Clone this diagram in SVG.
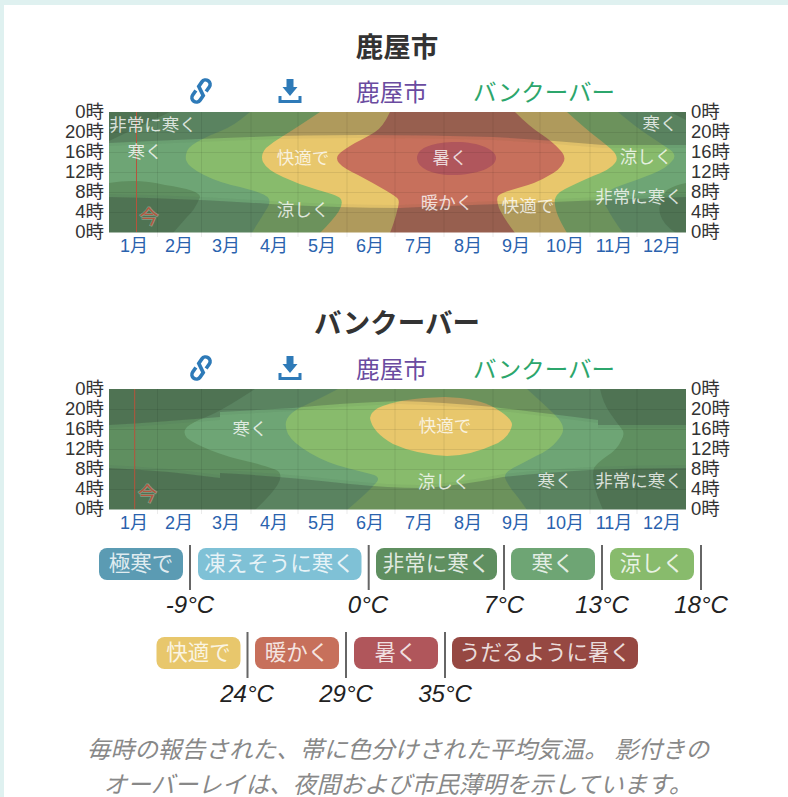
<svg xmlns="http://www.w3.org/2000/svg" xmlns:xlink="http://www.w3.org/1999/xlink" width="788" height="797" viewBox="0 0 788 797">
<style>
text{font-family:"Liberation Sans","Noto Sans CJK JP",sans-serif}
.title{font-size:27.500px;font-weight:700;fill:#333;text-anchor:middle}
.vc{fill:#5f8f60}.cold{fill:#6ea574}.cool{fill:#88bb6c}.comf{fill:#e8c76c}.warm{fill:#c7705b}.hot{fill:#b0565b}
.night{fill:#2f3838;opacity:.27}.twi{fill:#2f3838;opacity:.05}
.grid{stroke:#000;stroke-opacity:.08;stroke-width:1;fill:none}
.today{stroke:#b5533c;stroke-width:1;fill:none}
.now{font-size:19px;fill:#b5573f;text-anchor:middle;stroke:#fff;stroke-opacity:.3;stroke-width:1.5px;paint-order:stroke}
.hl{font-size:18.500px;fill:#333;text-anchor:end}
.hr{font-size:18.500px;fill:#333;text-anchor:start}
.ml{font-size:18px;fill:#2a62ae;text-anchor:middle}
.band{font-size:17.500px;fill:#fff;fill-opacity:.78;text-anchor:middle}
.p{font-size:23.700px;fill:#6a4ba0}.g{font-size:23.500px;fill:#2ca66c}
.lg{font-size:21.500px;fill:#fff;fill-opacity:.82;text-anchor:middle}
.tick{stroke:#666;stroke-width:2;fill:none}
.deg{font-size:24px;font-style:italic;fill:#222;text-anchor:middle}
.cap{font-size:23.700px;font-style:italic;fill:#888;text-anchor:middle}
</style>
<defs>
<clipPath id="c1"><rect x="109" y="112" width="577" height="120.500"/></clipPath>
<clipPath id="c2"><rect x="109" y="389" width="577" height="120.500"/></clipPath>
<filter id="soft" x="-2%" y="-5%" width="104%" height="110%"><feGaussianBlur stdDeviation="0.6"/></filter>
<g id="icons">
<path transform="translate(201 91) rotate(35)" d="M4.500 -2.500V-8a4.500 4.500 0 0 0 -9 0V-2.500L4.500 2.500V8a4.500 4.500 0 0 1 -9 0V2.500" fill="none" stroke="#2e7ab8" stroke-width="3.600" stroke-linecap="butt"/>
<path d="M286.500 79H293.500V87H297.500L290 96L282.500 87H286.500Z" fill="#2e7ab8"/>
<path d="M280 96V101.500H300V96" fill="none" stroke="#2e7ab8" stroke-width="3"/>
</g>
</defs>
<rect width="788" height="797" fill="#fff"/>
<rect width="788" height="5" fill="#dff1f0"/>
<rect width="4" height="797" fill="#dff1f0"/>

<g id="chart-kanoya">
<text class="title" x="397" y="57">鹿屋市</text>
<use xlink:href="#icons" href="#icons"/>
<text class="p" x="356" y="101">鹿屋市</text>
<text class="g" x="473" y="101">バンクーバー</text>
<g clip-path="url(#c1)" filter="url(#soft)">
<rect class="vc" x="109" y="112" width="577" height="121"/>
<path class="cold" d="M170 112 L109 141 L109 183 Q137 178 165 185 Q200 190 200 197 Q195 210 187 217 Q180 225 173 233 L676 233 Q663 225 660 214 Q657 203 667 190 Q675 185 686 183 L686 120 L670 112 Z"/>
<path class="cool" d="M250 112 L240 120 Q230 128 211 135 Q193 143 189 148 Q185 153 186 160 Q188 167 204 175 Q220 183 240 187 Q260 192 266 196 Q273 200 266 210 Q260 220 256 226 L252 233 L623 233 Q612 218 607 208 Q603 203 605 196 Q607 190 622 185 Q637 180 652 174 Q667 168 672 161 Q678 155 669 149 Q660 143 648 135 Q637 128 618 112 Z"/>
<path class="comf" d="M320 112 Q293 130 283 136 Q273 142 266 148 Q260 155 263 162 Q267 170 283 177 Q300 185 318 190 Q337 195 340 198 Q344 202 339 211 Q333 220 320 233 L567 233 Q555 213 555 204 Q553 195 565 189 Q577 183 593 176 Q610 170 615 163 Q620 157 611 149 Q603 142 595 136 Q587 130 567 112 Z"/>
<path class="warm" d="M390 112 Q383 127 375 132 Q367 137 355 143 Q343 150 339 154 Q335 158 339 163 Q343 168 358 175 Q373 183 385 190 Q397 197 398 199 Q400 202 397 211 Q395 220 390 233 L515 233 Q503 217 499 208 Q496 200 498 196 Q500 193 518 188 Q537 183 548 176 Q560 170 563 163 Q567 157 560 150 Q553 142 541 134 Q530 127 515 112 Z"/>
<path class="hot" d="M417 158 C417 147 435 142 456 142 C480 142 496 150 496 158 C496 167 478 175 452 175 C432 175 417 168 417 158 Z"/>
<path class="twi" d="M109 112H686V148 L603 148 Q547 143 493 140 Q430 138 360 138 Q300 138 250 140 Q170 143 109 146Z"/>
<path class="night" d="M109 112H686V145 L603 145 Q547 140 493 137 Q430 135 360 135 Q300 135 250 137 Q170 140 109 143Z"/>
<path class="twi" d="M109 194 Q200 196 270 201 Q340 205 400 205 Q450 203 553 199 Q630 196 686 194 V233 H109Z"/>
<path class="night" d="M109 197 Q200 199 270 204 Q340 208 400 208 Q450 206 553 202 Q630 199 686 197 V233 H109Z"/>
</g>
<path class="grid" d="M109 132.500H686M109 152.500H686M109 172.500H686M109 192.500H686M109 212.500H686M157.500 112V237M201.500 112V237M251 112V237M298 112V237M347 112V237M395 112V237M444 112V237M493 112V237M540 112V237M590 112V237M637 112V237"/>
<path class="today" d="M136.500 112V232"/>
<text class="now" x="149" y="224">今</text>
<g>
<text class="band" x="153" y="131">非常に寒く</text>
<text class="band" x="145" y="158">寒く</text>
<text class="band" x="303" y="164">快適で</text>
<text class="band" x="303" y="216">涼しく</text>
<text class="band" x="450" y="164">暑く</text>
<text class="band" x="447" y="209">暖かく</text>
<text class="band" x="528" y="212">快適で</text>
<text class="band" x="660" y="130">寒く</text>
<text class="band" x="646" y="163">涼しく</text>
<text class="band" x="639" y="203">非常に寒く</text>
</g>
<g>
<text class="hl" x="104" y="118">0時</text><text class="hl" x="104" y="138">20時</text><text class="hl" x="104" y="158">16時</text><text class="hl" x="104" y="178">12時</text><text class="hl" x="104" y="198">8時</text><text class="hl" x="104" y="218">4時</text><text class="hl" x="104" y="238">0時</text>
<text class="hr" x="691" y="118">0時</text><text class="hr" x="691" y="138">20時</text><text class="hr" x="691" y="158">16時</text><text class="hr" x="691" y="178">12時</text><text class="hr" x="691" y="198">8時</text><text class="hr" x="691" y="218">4時</text><text class="hr" x="691" y="238">0時</text>
</g>
<g>
<text class="ml" x="134" y="252">1月</text><text class="ml" x="179" y="252">2月</text><text class="ml" x="226" y="252">3月</text><text class="ml" x="274" y="252">4月</text><text class="ml" x="322" y="252">5月</text><text class="ml" x="370" y="252">6月</text><text class="ml" x="419" y="252">7月</text><text class="ml" x="468" y="252">8月</text><text class="ml" x="516" y="252">9月</text><text class="ml" x="565" y="252">10月</text><text class="ml" x="614" y="252">11月</text><text class="ml" x="662" y="252">12月</text>
</g>
</g>

<g id="chart-vancouver">
<text class="title" x="397" y="333">バンクーバー</text>
<use xlink:href="#icons" href="#icons" y="277"/>
<text class="p" x="356" y="378">鹿屋市</text>
<text class="g" x="473" y="378">バンクーバー</text>
<g clip-path="url(#c2)" filter="url(#soft)">
<rect class="vc" x="109" y="389" width="577" height="121"/>
<path class="cold" d="M255 389 Q220 412 206 417 Q193 422 187 427 Q182 432 187 438 Q193 443 210 450 Q227 457 250 462 Q273 468 278 471 Q283 475 278 484 Q273 493 255 510 L603 510 Q597 497 594 485 Q592 473 594 468 Q597 463 607 456 Q617 450 621 441 Q626 433 621 428 Q617 423 610 413 Q603 403 600 389 Z"/>
<path class="cool" d="M338 389 Q313 402 301 407 Q290 413 287 419 Q284 425 288 434 Q293 443 310 453 Q327 463 347 468 Q367 473 374 475 Q382 478 374 485 Q367 493 347 510 L527 510 Q518 497 512 490 Q507 483 505 478 Q504 473 513 468 Q523 463 536 456 Q550 450 557 441 Q564 433 563 428 Q563 423 555 415 Q547 407 527 389 Z"/>
<path class="comf" d="M370 418 Q371 412 378 408 Q400 398 445 397 Q478 398 495 408 Q512 418 512 425 Q510 436 498 443 Q470 456 447 456 Q415 454 393 444 Q372 432 370 418Z"/>
<path class="twi" d="M109 389H686V428 L598 428 V423 Q550 417 493 410 Q440 405 400 404 Q340 406 293 411 L220 415 V420 Q160 425 109 428Z"/>
<path class="night" d="M109 389H686V425 L598 425 V420 Q550 414 493 407 Q440 402 400 401 Q340 403 293 408 L220 412 V417 Q160 422 109 425Z"/>
<path class="twi" d="M109 465 Q160 467 220 475 V470 Q280 473 350 481 Q390 485 420 485 Q460 483 503 474 Q550 469 590 467 Q640 465 686 465 V510 H109Z"/>
<path class="night" d="M109 468 Q160 470 220 478 V473 Q280 476 350 484 Q390 488 420 488 Q460 486 503 477 Q550 472 590 470 Q640 468 686 468 V510 H109Z"/>
</g>
<path class="grid" d="M109 409.500H686M109 429.500H686M109 449.500H686M109 469.500H686M109 489.500H686M157.500 389V514M201.500 389V514M251 389V514M298 389V514M347 389V514M395 389V514M444 389V514M493 389V514M540 389V514M590 389V514M637 389V514"/>
<path class="today" d="M134.700 389V509"/>
<text class="now" x="147.500" y="501">今</text>
<g>
<text class="band" x="250" y="435">寒く</text>
<text class="band" x="445" y="432">快適で</text>
<text class="band" x="444" y="488">涼しく</text>
<text class="band" x="555" y="487">寒く</text>
<text class="band" x="639" y="487">非常に寒く</text>
</g>
<g>
<text class="hl" x="104" y="395">0時</text><text class="hl" x="104" y="415">20時</text><text class="hl" x="104" y="435">16時</text><text class="hl" x="104" y="455">12時</text><text class="hl" x="104" y="475">8時</text><text class="hl" x="104" y="495">4時</text><text class="hl" x="104" y="515">0時</text>
<text class="hr" x="691" y="395">0時</text><text class="hr" x="691" y="415">20時</text><text class="hr" x="691" y="435">16時</text><text class="hr" x="691" y="455">12時</text><text class="hr" x="691" y="475">8時</text><text class="hr" x="691" y="495">4時</text><text class="hr" x="691" y="515">0時</text>
</g>
<g>
<text class="ml" x="134" y="529">1月</text><text class="ml" x="179" y="529">2月</text><text class="ml" x="226" y="529">3月</text><text class="ml" x="274" y="529">4月</text><text class="ml" x="322" y="529">5月</text><text class="ml" x="370" y="529">6月</text><text class="ml" x="419" y="529">7月</text><text class="ml" x="468" y="529">8月</text><text class="ml" x="516" y="529">9月</text><text class="ml" x="565" y="529">10月</text><text class="ml" x="614" y="529">11月</text><text class="ml" x="662" y="529">12月</text>
</g>
</g>

<g id="legend">
<g id="lg-extreme"><rect x="99" y="548" width="84" height="32" rx="8" fill="#5b9bb3"/><text class="lg" x="141" y="571">極寒で</text></g>
<g id="lg-freezing"><rect x="198" y="548" width="163.500" height="32" rx="8" fill="#7fc1d6"/><text class="lg" x="279.500" y="571">凍えそうに寒く</text></g>
<g id="lg-verycold"><rect x="376" y="548" width="121" height="32" rx="8" fill="#5f8f60"/><text class="lg" x="436.500" y="571">非常に寒く</text></g>
<g id="lg-cold"><rect x="511" y="548" width="84" height="32" rx="8" fill="#6ea574"/><text class="lg" x="553" y="571">寒く</text></g>
<g id="lg-cool"><rect x="610" y="548" width="84" height="32" rx="8" fill="#88bb6c"/><text class="lg" x="652" y="571">涼しく</text></g>
<g id="lg-comfortable"><rect x="156.500" y="637" width="84" height="32" rx="8" fill="#e8c76c"/><text class="lg" x="198.500" y="660">快適で</text></g>
<g id="lg-warm"><rect x="255" y="637" width="84" height="32" rx="8" fill="#c7705b"/><text class="lg" x="297" y="660">暖かく</text></g>
<g id="lg-hot"><rect x="354" y="637" width="84" height="32" rx="8" fill="#b0565b"/><text class="lg" x="396" y="660">暑く</text></g>
<g id="lg-sweltering"><rect x="452" y="637" width="186" height="32" rx="8" fill="#964842"/><text class="lg" x="545" y="660">うだるように暑く</text></g>
<path class="tick" d="M190 545V590M368.700 545V590M504 545V590M602 545V590M701 545V590M247.500 632V678M346 632V678M445 632V678"/>
<text class="deg" x="190" y="613">-9°C</text><text class="deg" x="368" y="613">0°C</text><text class="deg" x="504" y="613">7°C</text><text class="deg" x="602" y="613">13°C</text><text class="deg" x="701" y="613">18°C</text>
<text class="deg" x="247" y="702">24°C</text><text class="deg" x="346" y="702">29°C</text><text class="deg" x="445" y="702">35°C</text>
</g>

<g id="caption">
<text class="cap" x="398" y="758">毎時の報告された、帯に色分けされた平均気温。 影付きの</text>
<text class="cap" x="398" y="793">オーバーレイは、夜間および市民薄明を示しています。</text>
</g>
</svg>
